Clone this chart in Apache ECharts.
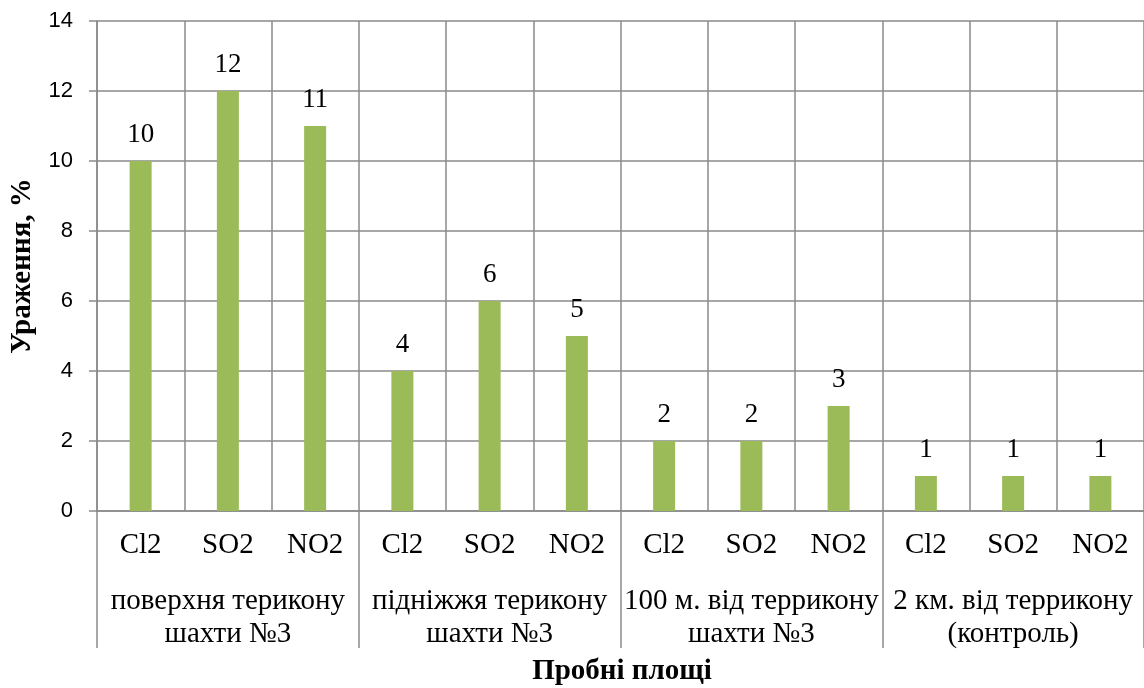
<!DOCTYPE html>
<html>
<head>
<meta charset="utf-8">
<script src="https://cdn.jsdelivr.net/npm/echarts@6/dist/echarts.min.js"></script>
<style>
html,body{margin:0;padding:0;background:#fff;}
#chart{width:1144px;height:688px;}
</style>
</head>
<body>
<div id="chart"></div>
<script>
const gases = ['Cl2', 'SO2', 'NO2'];
const groups = ['поверхня терикону\nшахти №3', 'підніжжя терикону\nшахти №3', '100 м. від террикону\nшахти №3', '2 км. від террикону\n(контроль)'];
const values = [10, 12, 11, 4, 6, 5, 2, 2, 3, 1, 1, 1];
const yTitle = 'Ураження, %';
const xTitle = 'Пробні площі';

const categories = [];
groups.forEach(() => gases.forEach(g => categories.push(g)));

const gridColor = '#8a8a8a';
const serif = '"Liberation Serif", "Times New Roman", serif';
const sans = '"Liberation Sans", Arial, sans-serif';

const chart = echarts.init(document.getElementById('chart'));
chart.setOption({
  animation: false,
  backgroundColor: '#ffffff',
  grid: { left: 97, top: 21, width: 1048, height: 490, containLabel: false },
  xAxis: [
    {
      type: 'category',
      data: categories,
      position: 'bottom',
      axisLine: { show: true, lineStyle: { color: gridColor, width: 1.5 } },
      axisTick: { show: false },
      splitLine: { show: true, lineStyle: { color: gridColor, width: 1.5 } },
      axisLabel: { fontFamily: serif, fontSize: 29, color: '#000', margin: 20, interval: 0 }
    },
    {
      type: 'category',
      data: groups,
      position: 'bottom',
      offset: 0,
      axisLine: { show: false },
      axisTick: { show: true, length: 137, interval: 0, lineStyle: { color: gridColor, width: 1.5 } },
      splitLine: { show: false },
      axisLabel: { fontFamily: serif, fontSize: 29, lineHeight: 33, color: '#000', margin: 74, interval: 0 }
    }
  ],
  yAxis: {
    type: 'value',
    min: 0, max: 14, interval: 2,
    axisLine: { show: true, lineStyle: { color: gridColor, width: 1.5 } },
    axisTick: { show: true, length: 8, lineStyle: { color: gridColor, width: 1.5 } },
    splitLine: { show: true, lineStyle: { color: gridColor, width: 1.5 } },
    axisLabel: { fontFamily: sans, fontSize: 22, color: '#000', margin: 24 }
  },
  graphic: [
    {
      type: 'text', rotation: Math.PI / 2,
      style: { text: yTitle, fontFamily: serif, fontWeight: 'bold', fontSize: 29, fill: '#000', textAlign: 'center', textVerticalAlign: 'middle' },
      x: 23, y: 266
    },
    {
      type: 'text',
      style: { text: xTitle, fontFamily: serif, fontWeight: 'bold', fontSize: 29, fill: '#000', textAlign: 'center', textVerticalAlign: 'middle' },
      x: 622, y: 672
    }
  ],
  series: [{
    type: 'bar',
    xAxisIndex: 0,
    data: values,
    barWidth: 22,
    itemStyle: { color: '#9BBB59' },
    label: { show: true, position: 'top', distance: 13, fontFamily: serif, fontSize: 27, color: '#000' }
  }]
});
</script>
</body>
</html>
